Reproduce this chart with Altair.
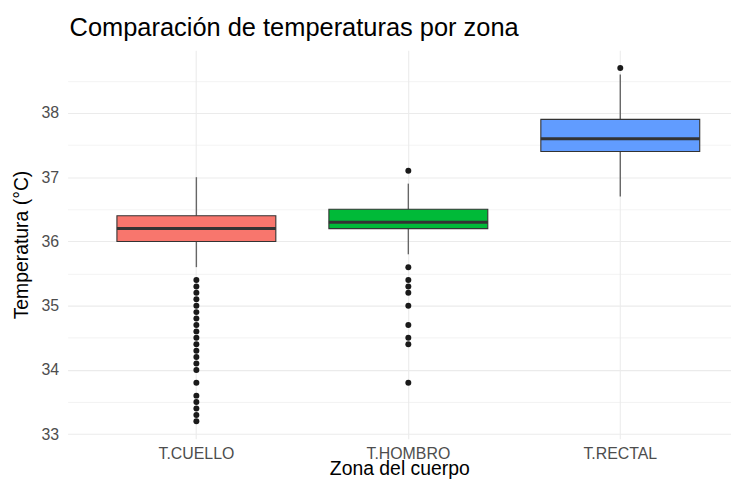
import altair as alt
import pandas as pd

# ---- data ----
zonas = ["T.CUELLO", "T.HOMBRO", "T.RECTAL"]
bigote_inf = [35.6, 35.8, 36.7]
q1 = [36.0, 36.2, 37.4]
mediana = [36.2, 36.3, 37.6]
q3 = [36.4, 36.5, 37.9]
bigote_sup = [37.0, 36.9, 38.6]

atipicos_cuello = [35.4, 35.3, 35.2, 35.1, 35.0, 34.9, 34.8, 34.7, 34.6, 34.5,
                   34.4, 34.3, 34.2, 34.1, 34.0, 33.8, 33.6, 33.5, 33.4, 33.3, 33.2]
atipicos_hombro = [37.1, 35.6, 35.4, 35.3, 35.2, 35.0, 34.7, 34.5, 34.4, 33.8]
atipicos_rectal = [38.7]

colores = ["#F8766D", "#00BA38", "#619CFF"]
marcas_y = [33.0, 33.5, 34.0, 34.5, 35.0, 35.5, 36.0, 36.5, 37.0, 37.5, 38.0, 38.5]

resumen = pd.DataFrame({
    "zona": zonas,
    "bigote_inf": bigote_inf,
    "q1": q1,
    "mediana": mediana,
    "q3": q3,
    "bigote_sup": bigote_sup,
})

atipicos = pd.DataFrame({
    "zona": ["T.CUELLO"] * len(atipicos_cuello)
            + ["T.HOMBRO"] * len(atipicos_hombro)
            + ["T.RECTAL"] * len(atipicos_rectal),
    "temp": atipicos_cuello + atipicos_hombro + atipicos_rectal,
})

FONT = "Liberation Sans"
GRID = "#EBEBEB"

x_scale = alt.Scale(domain=zonas, paddingInner=0, paddingOuter=0.065, align=0.828)
x_axis = alt.Axis(
    title="Zona del cuerpo", labelAngle=0, grid=True, bandPosition=0.5,
    gridColor=GRID, gridWidth=1.1, domain=False, ticks=False, tickSize=0,
    labelPadding=7, labelFontSize=16, labelColor="#4D4D4D", labelFont=FONT,
    titleFontSize=19.5, titleColor="#000000", titleFont=FONT, titleFontWeight="normal",
    titlePadding=-2,
)
y_scale = alt.Scale(domain=[32.93, 38.974], nice=False, zero=False)
y_axis = alt.Axis(
    title="Temperatura (°C)", values=marcas_y,
    labelExpr="datum.value % 1 === 0 ? format(datum.value, 'd') : ''",
    grid=True, gridColor=GRID,
    gridWidth={"condition": {"test": "datum.value % 1 !== 0", "value": 0.6}, "value": 1.1},
    domain=False, ticks=False, tickSize=0,
    labelPadding=9, labelFontSize=16, labelColor="#4D4D4D", labelFont=FONT,
    titleFontSize=19.5, titleColor="#000000", titleFont=FONT, titleFontWeight="normal",
    titlePadding=10, minExtent=26, maxExtent=26,
)

def xenc():
    return alt.X("zona:N", scale=x_scale, axis=x_axis)

base = alt.Chart(resumen)

bigote_bajo = base.mark_rule(color="#666666", strokeWidth=1.4).encode(
    x=xenc(),
    y=alt.Y("bigote_inf:Q", scale=y_scale, axis=y_axis),
    y2="q1:Q",
)
bigote_alto = base.mark_rule(color="#666666", strokeWidth=1.4).encode(
    x=xenc(),
    y=alt.Y("q3:Q", scale=y_scale, axis=y_axis),
    y2="bigote_sup:Q",
)
caja = base.mark_bar(size=160, stroke="#333333", strokeWidth=1.1, opacity=1).encode(
    x=xenc(),
    y=alt.Y("q1:Q", scale=y_scale, axis=y_axis),
    y2="q3:Q",
    color=alt.Color("zona:N", scale=alt.Scale(domain=zonas, range=colores), legend=None),
)
med = base.mark_tick(size=160, thickness=3, color="#333333", opacity=1).encode(
    x=xenc(),
    y=alt.Y("mediana:Q", scale=y_scale, axis=y_axis),
)
puntos = alt.Chart(atipicos).mark_circle(size=36, color="#1A1A1A", opacity=1).encode(
    x=xenc(),
    y=alt.Y("temp:Q", scale=y_scale, axis=y_axis),
)

chart = alt.layer(bigote_bajo, bigote_alto, caja, med, puntos).properties(
    width=668,
    height=391,
    autosize=alt.AutoSizeParams(type="none"),
    padding={"top": 41, "left": 60, "right": 0, "bottom": 50},
    title=alt.TitleParams(
        "Comparación de temperaturas por zona", anchor="start", frame="group",
        fontSize=25.6, font=FONT, color="#000000", fontWeight="normal",
        offset=9.3, dx=2,
    ),
).configure(
    font=FONT, background="white", view=alt.ViewConfig(strokeWidth=0, stroke="transparent")
)

chart.save("out.html", embed_options={"renderer": "svg", "actions": False})
